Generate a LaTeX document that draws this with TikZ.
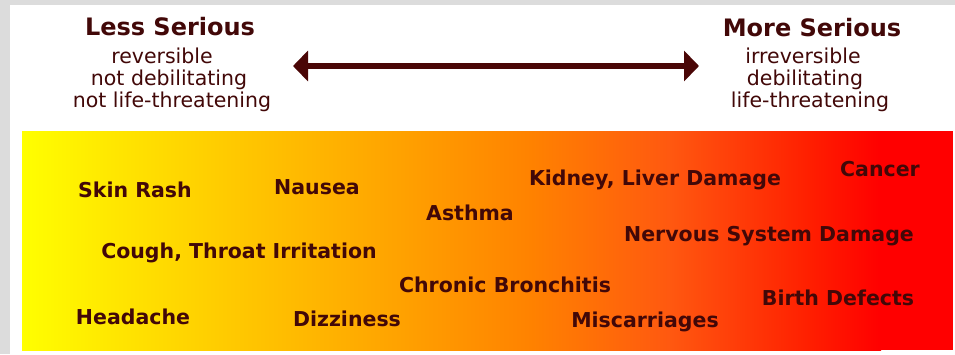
\documentclass[tikz,border=0pt]{standalone}
\usepackage{fontspec}
\setmainfont{DejaVu Sans}
\usetikzlibrary{arrows.meta}
\definecolor{ink}{HTML}{420808}
\definecolor{arrowink}{HTML}{4A0606}
\definecolor{frame}{HTML}{DCDCDC}
\definecolor{g0}{HTML}{FFFF00}
\definecolor{g1}{HTML}{FFEA00}
\definecolor{g2}{HTML}{FFCC00}
\definecolor{g3}{HTML}{FF9F00}
\definecolor{g4}{HTML}{FF8200}
\definecolor{g5}{HTML}{FF5810}
\definecolor{g6}{HTML}{FF1E00}
\definecolor{g7}{HTML}{FF0000}
\tikzset{
  item/.style={anchor=base, text=ink, font=\fontsize{20.5}{24}\selectfont\bfseries, inner sep=0pt},
  headtitle/.style={anchor=base, text=ink, font=\fontsize{24}{28}\selectfont\bfseries, inner sep=0pt},
  headline/.style={anchor=base, text=ink, font=\fontsize{20.5}{24}\selectfont, inner sep=0pt},
  scale arrow/.style={arrowink, line width=5.5pt, {Triangle[length=15pt,width=30pt]}-{Triangle[length=15pt,width=30pt]}}
}
\begin{document}
\begin{tikzpicture}[x=1pt,y=-1pt]
\useasboundingbox (0,0) rectangle (955,354);
\fill[white] (0,0) rectangle (955,354);
\fill[frame] (0,0) rectangle (955,5);
\fill[frame] (0,0) rectangle (10,354);
% gradient band
\shade[left color=g0, right color=g1] (22,131) rectangle (101,350);
\shade[left color=g1, right color=g2] (100,131) rectangle (221,350);
\shade[left color=g2, right color=g3] (220,131) rectangle (411,350);
\shade[left color=g3, right color=g4] (410,131) rectangle (531,350);
\shade[left color=g4, right color=g5] (530,131) rectangle (671,350);
\shade[left color=g5, right color=g6] (670,131) rectangle (811,350);
\shade[left color=g6, right color=g7] (810,131) rectangle (881,350);
\fill[g7] (880,131) rectangle (953,350);
% header
\node[headtitle] (less) at (170,35) {Less Serious};
\node[headline] (rev) at (162,63) {reversible};
\node[headline] (deb) at (169,85) {not debilitating};
\node[headline] (life) at (172,107) {not life-threatening};
\node[headtitle] (more) at (812,36) {More Serious};
\node[headline] (irrev) at (803,63) {irreversible};
\node[headline] (ideb) at (805,85) {debilitating};
\node[headline] (ilife) at (810,107) {life-threatening};
\coordinate (al) at (293,66);
\coordinate (ar) at (699,66);
\draw[scale arrow] (al) -- (ar);
% items
\node[item] (skin) at (135,197) {Skin Rash};
\node[item] (nausea) at (317,194) {Nausea};
\node[item] (cough) at (239,258) {Cough, Throat Irritation};
\node[item] (head) at (133,324) {Headache};
\node[item] (dizzy) at (347,326) {Dizziness};
\node[item] (asthma) at (470,220) {Asthma};
\node[item] (kidney) at (655,185) {Kidney, Liver Damage};
\node[item] (chronic) at (505,292) {Chronic Bronchitis};
\node[item] (misc) at (645,327) {Miscarriages};
\node[item] (nervous) at (769,241) {Nervous System Damage};
\node[item] (cancer) at (880,176) {Cancer};
\node[item] (birth) at (838,305) {Birth Defects};
\end{tikzpicture}
\end{document}
